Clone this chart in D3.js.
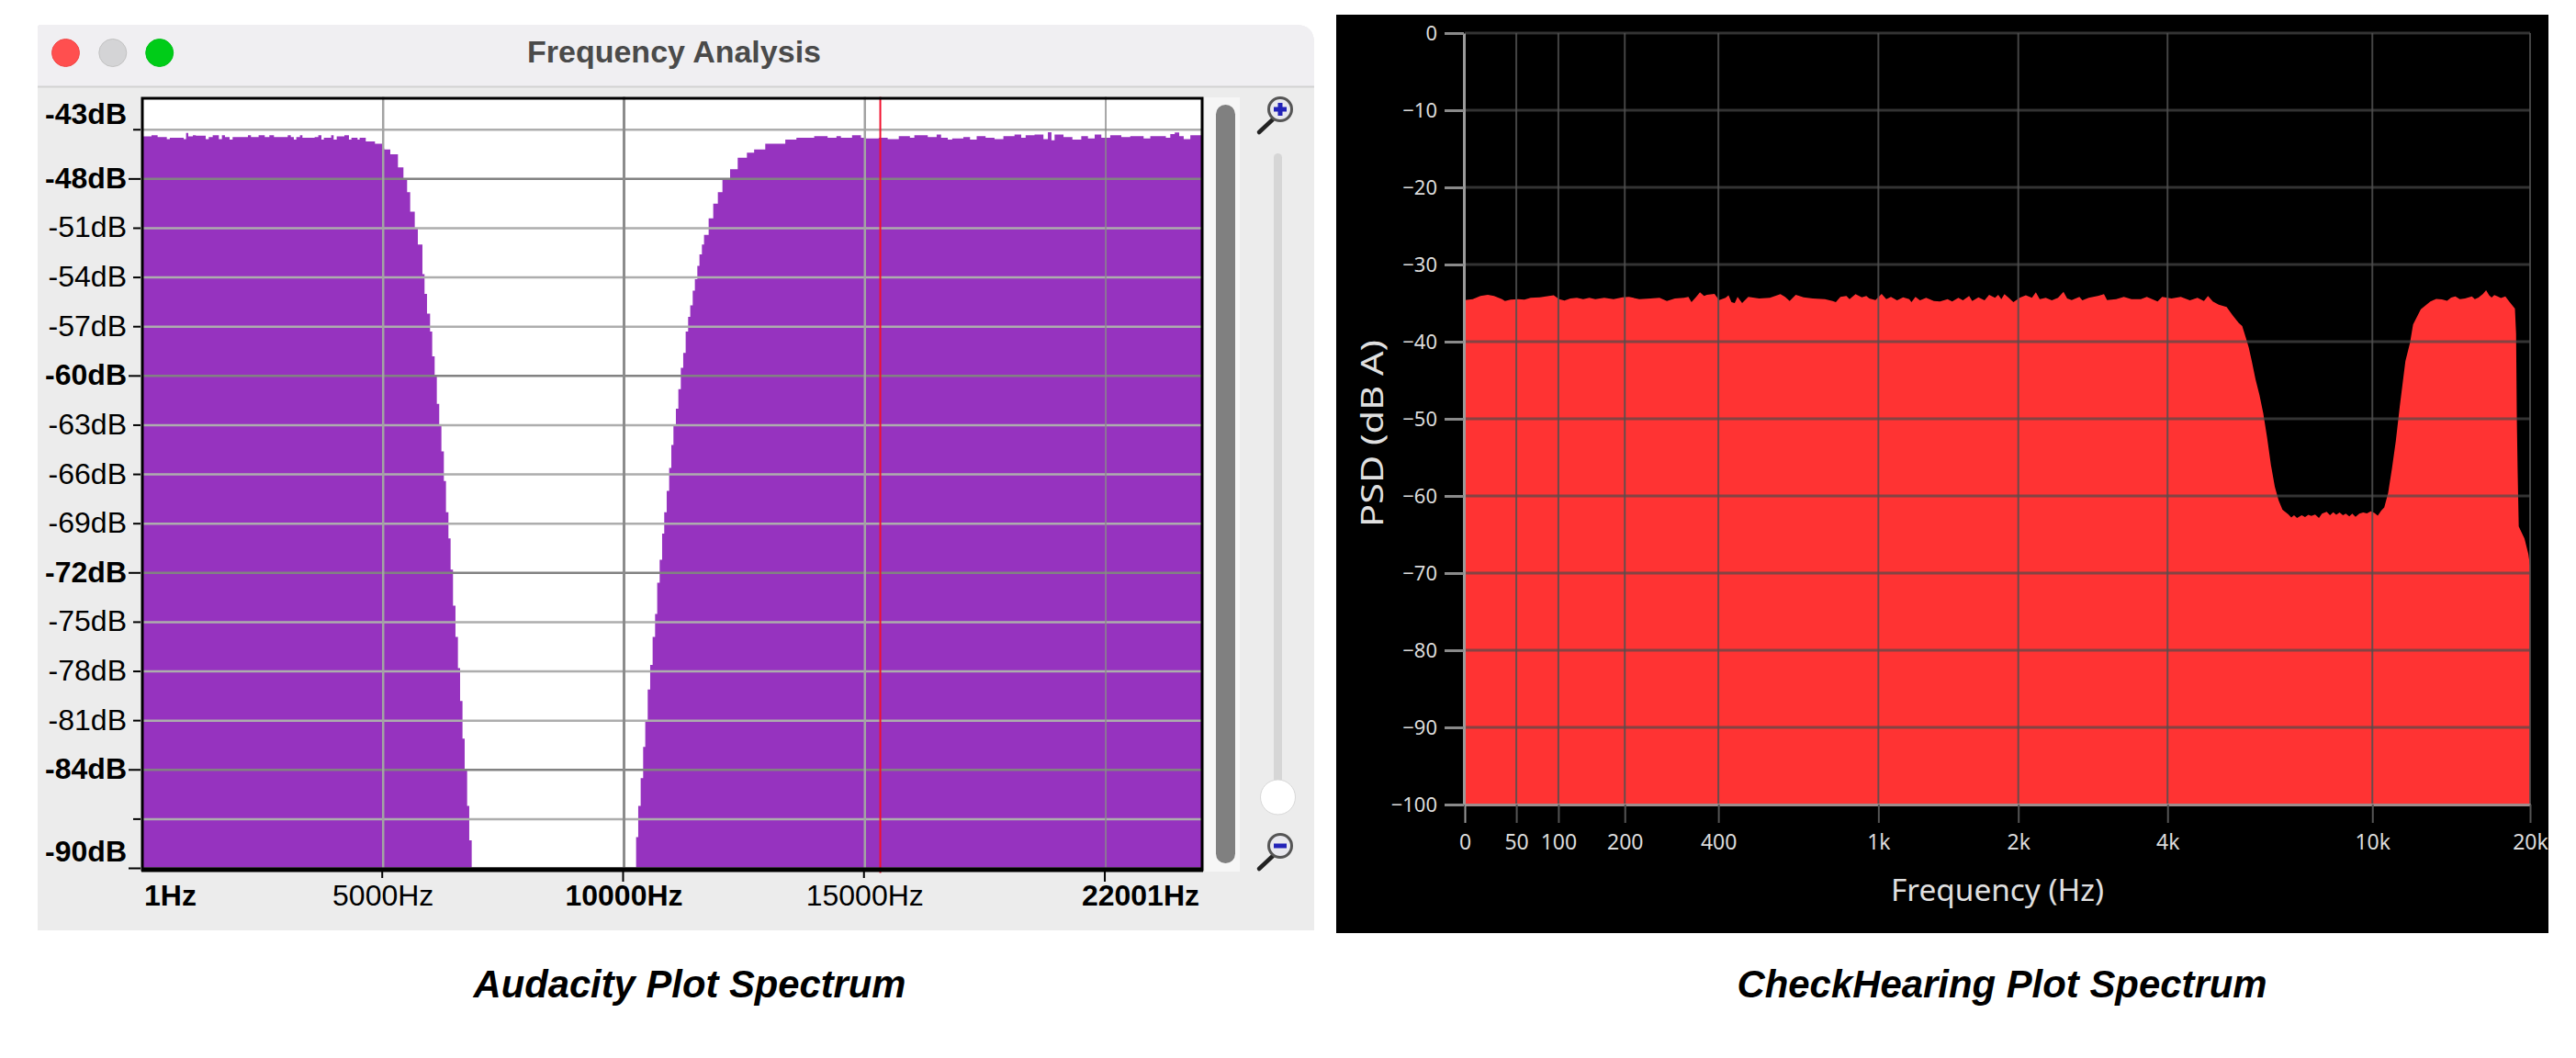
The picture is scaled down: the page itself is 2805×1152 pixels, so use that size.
<!DOCTYPE html>
<html>
<head>
<meta charset="utf-8">
<script src="https://cdn.jsdelivr.net/npm/d3@7"></script>
<style>
  body { margin: 0; background: #fff; }
  svg { display: block; }
</style>
</head>
<body>
<svg width="2805" height="1152"></svg>
<script>
// Audacity spectrum, stepped bins (Hz, dB)
const audacityFreq = [1,191,318,509,572,858,909,954,1049,1112,1316,1379,1462,1589,1653,1716,1812,1875,2193,2256,2415,2542,2638,2733,3019,3083,3146,3197,3273,3324,3578,3654,3718,3769,3921,3972,4036,4195,4290,4341,4468,4512,4639,4830,4989,
  5021,5148,5307,5421,5497,5561,5656,5720,5815,5859,5910,5974,6018,6069,6114,6164,6209,6260,6304,6355,6400,6450,6501,6552,6597,6647,6692,6743,6787,6838,
  10200,10251,10295,10346,10397,10441,10492,10543,10594,10645,10689,10740,10791,10835,10886,10937,10982,11026,11077,11128,11179,11229,11280,11331,11375,11426,11471,11522,11566,11617,11661,11757,11852,11948,12043,12202,12360,12551,12701,12932,13163,13348,
  13579,13948,14226,14410,14503,14734,14919,15011,15288,15473,15704,15935,16027,16305,16490,16582,16721,16813,17044,17183,17321,17506,17691,17875,18106,18245,18337,18522,18707,18799,18873,18938,19123,19308,19492,19631,19770,19908,20093,20324,20509,20786,20925,21248,21340,21433,21525,21618,21756,22001];
const audacityDb = [-45.40,-45.34,-45.45,-45.58,-45.49,-45.58,-45.19,-45.40,-45.34,-45.36,-45.58,-45.45,-45.34,-45.58,-45.34,-45.45,-45.60,-45.45,-45.34,-45.45,-45.34,-45.45,-45.34,-45.45,-45.34,-45.45,-45.60,-45.45,-45.34,-45.49,-45.45,-45.34,-45.60,-45.49,-45.34,-45.60,-45.40,-45.34,-45.60,-45.49,-45.60,-45.49,-45.71,-45.86,-46.14,
  -46.2,-46.5,-47.3,-48,-48.8,-50,-51,-52,-53.8,-55,-56.2,-57.3,-58.8,-60,-61.7,-63,-64.6,-66.4,-68.3,-69.9,-71.8,-74,-75.9,-77.8,-79.8,-82.1,-84,-86.2,-88.3,-90,
  -90,-88.1,-86.2,-84.5,-82.6,-81,-79.1,-77.6,-75.9,-74.5,-72.6,-71.2,-69.6,-68.3,-67,-65.6,-64.2,-63,-62,-60.8,-59.5,-58.6,-57.3,-56.4,-55.7,-54.8,-54.1,-53.3,-52.6,-52,-51.4,-50.4,-49.5,-48.8,-48,-47.4,-46.7,-46.4,-46.2,-45.85,-45.85,-45.6,
  -45.49,-45.39,-45.49,-45.39,-45.49,-45.34,-45.49,-45.53,-45.49,-45.58,-45.39,-45.49,-45.34,-45.45,-45.30,-45.49,-45.60,-45.53,-45.45,-45.60,-45.39,-45.49,-45.58,-45.39,-45.30,-45.49,-45.34,-45.30,-45.58,-45.15,-45.64,-45.30,-45.45,-45.60,-45.39,-45.53,-45.30,-45.49,-45.34,-45.45,-45.39,-45.53,-45.39,-45.49,-45.26,-45.17,-45.39,-45.58,-45.34,-45.34];

// CheckHearing spectrum (Hz, dB)
const checkFreq = [0,7,14,21,27,35,38,44,52,59,66,77,88,94,101,108,116,125,134,143,152,166,181,196,207,226,247,265,280,297,317,327,334,345,354,364,371,390,402,419,427,435,444,452,465,483,516,550,585,601,617,639,668,703,752,
  784,798,818,845,859,887,917,939,954,985,1017,1042,1067,1101,1136,1172,1185,1209,1237,1276,1326,1367,1420,1452,1497,1531,1578,1602,1651,1701,1739,1789,1817,1844,1872,1911,1954,2013,2073,2134,2174,2214,2278,2344,2413,2476,2519,2573,2667,2704,2784,2904,2989,3032,3162,3276,3393,3540,3639,3822,3903,4073,4248,4427,4582,4717,4804,4910,5043,5225,5371,5519,
  5604,5700,5770,5850,5950,6054,6158,6266,6375,6485,6597,6711,6886,6980,7065,7160,7311,7420,7530,7630,7760,7893,8000,8168,8290,8410,8524,8650,8780,8894,9030,9150,9282,9440,9602,9760,9933,10090,10241,10400,10540,10721,10905,11092,11282,11415,11570,11807,11969,12382,12916,13250,13589,13900,14150,14414,14700,15034,15500,15700,15949,16274,16495,16717,16900,17100,17351,17600,17947,18249,18716,18812,18874,18937,19032,19519,19850,20000];
const checkDb = [-34.6,-34.48,-34.08,-33.93,-34.08,-34.48,-34.72,-34.56,-34.48,-34.56,-34.32,-34.25,-34.08,-34.0,-34.48,-34.68,-34.4,-34.32,-34.48,-34.32,-34.48,-34.32,-34.48,-34.25,-34.2,-34.48,-34.4,-34.32,-34.72,-34.4,-34.32,-34.2,-34.88,-34.2,-33.61,-34.08,-33.93,-33.81,-34.6,-34.32,-34.0,-34.88,-35.0,-34.2,-35.0,-34.2,-34.4,-34.32,-33.85,-34.2,-34.72,-33.93,-34.25,-34.4,-34.48,
  -34.72,-34.88,-34.2,-34.08,-34.48,-33.85,-34.25,-34.08,-34.4,-34.6,-33.81,-34.48,-34.2,-34.64,-34.25,-34.48,-34.88,-34.2,-34.64,-34.32,-34.72,-34.8,-34.48,-34.8,-34.32,-34.64,-34.08,-34.72,-34.25,-34.64,-33.93,-34.32,-33.93,-34.48,-33.85,-34.32,-34.88,-34.32,-34.0,-34.32,-33.61,-34.48,-34.32,-34.64,-34.32,-33.53,-34.4,-34.6,-34.2,-34.64,-34.32,-34.08,-33.85,-34.6,-34.48,-34.2,-34.48,-34.48,-34.2,-34.8,-34.2,-34.4,-34.2,-34.64,-34.32,-34.72,-34.08,-34.8,-35.2,-35.5,-36.6,-37.6,
  -37.98,-39.56,-40.75,-42.54,-44.92,-46.9,-49.29,-52.46,-56.03,-58.81,-60.6,-61.79,-62.38,-62.8,-62.5,-62.85,-62.5,-62.75,-62.45,-62.6,-62.4,-62.85,-62.3,-62.05,-62.5,-62.1,-62.45,-62.15,-62.5,-62.3,-62.65,-62.3,-62.7,-62.3,-62.15,-62.25,-61.98,-62.2,-62.55,-61.9,-61.5,-59.6,-56.43,-52.86,-48.49,-45.71,-42.54,-40.16,-37.78,-35.8,-34.8,-34.45,-34.52,-34.7,-34.3,-34.13,-34.5,-34.4,-34.15,-34.5,-34.29,-33.81,-33.33,-34.0,-34.3,-33.95,-34.13,-34.35,-34.13,-34.8,-35.71,-38.97,-50.08,-56.43,-63.97,-65.55,-67.54,-69.12];

const audacityDbTicks = [-45,-48,-51,-54,-57,-60,-63,-66,-69,-72,-75,-78,-81,-84,-87,-90];
const audacityDbMajor = [-48,-60,-72,-84,-90];
const audacityDbLabels = [-43,-48,-51,-54,-57,-60,-63,-66,-69,-72,-75,-78,-81,-84,-90];
const audacityBoldLabels = [-43,-48,-60,-72,-84,-90];
const audacityHzTicks = [5000,10000,15000,20000];
const audacityHzLabels = [1,5000,10000,15000,22001];
const audacityBoldHz = [1,10000,22001];
const audacityCursor = 15320;

const checkDbTicks = [0,-10,-20,-30,-40,-50,-60,-70,-80,-90,-100];
const checkHzTicks = [0,50,100,200,400,1000,2000,4000,10000,20000];
const checkHzLabels = ["0","50","100","200","400","1k","2k","4k","10k","20k"];

const svg = d3.select("svg");
const sans = "'Liberation Sans', Arial, sans-serif";

// ---------- Audacity window ----------
const win = svg.append("g");
win.append("path")
  .attr("d", "M41,1013 V30 Q41,27 44,27 H1411 Q1431,27 1431,47 V1013 Z")
  .style("fill", "#ececec");
win.append("path")
  .attr("d", "M41,94 V30 Q41,27 44,27 H1411 Q1431,27 1431,47 V94 Z")
  .style("fill", "#f0eff2");
win.append("line")
  .attr("x1", 41).attr("x2", 1431).attr("y1", 94.5).attr("y2", 94.5)
  .style("stroke", "#d2d2d2").style("stroke-width", 2);

[[71.5, "#ff4f4f", "#f04848"], [122.8, "#d4d4d6", "#c2c2c2"], [173.7, "#00cc18", "#00c018"]].forEach(function(b) {
  win.append("circle")
    .attr("cx", b[0]).attr("cy", 57.5).attr("r", 15)
    .style("fill", b[1]).style("stroke", b[2]).style("stroke-width", 1);
});

win.append("text")
  .attr("x", 734).attr("y", 68)
  .attr("text-anchor", "middle")
  .attr("textLength", 320).attr("lengthAdjust", "spacingAndGlyphs")
  .style("font", "bold 33px " + sans)
  .style("fill", "#4a4a4a")
  .text("Frequency Analysis");

const ax = d3.scaleLinear().domain([1, 22001]).range([155, 1309]);
const ay = d3.scaleLinear().domain([-43, -90]).range([105.5, 945.5]);

svg.append("rect")
  .attr("x", ax.range()[0]).attr("y", ay(-43))
  .attr("width", ax.range()[1] - ax.range()[0]).attr("height", ay(-90) - ay(-43))
  .style("fill", "#fff");

const audacityArea = d3.area()
  .x(function(d) { return ax(d[0]); })
  .y0(ay(-90))
  .y1(function(d) { return ay(d[1]); })
  .curve(d3.curveStepAfter);

svg.append("path")
  .datum(d3.zip(audacityFreq, audacityDb))
  .attr("d", audacityArea)
  .style("fill", "#9633bf");

// grid
svg.selectAll(".ah").data(audacityDbTicks).join("line")
  .attr("class", "ah")
  .attr("x1", ax.range()[0]).attr("x2", ax.range()[1])
  .attr("y1", function(d) { return ay(d); }).attr("y2", function(d) { return ay(d); })
  .style("stroke", function(d) { return audacityDbMajor.includes(d) ? "#828282" : "#adadad"; })
  .style("stroke-width", 2.5);

svg.selectAll(".av").data(audacityHzTicks).join("line")
  .attr("class", "av")
  .attr("x1", function(d) { return ax(d); }).attr("x2", function(d) { return ax(d); })
  .attr("y1", ay(-43)).attr("y2", ay(-90))
  .style("stroke", function(d) { return d === 10000 ? "#8c8c8c" : (d === 20000 ? "#8a8a8a" : "#a3a3a3"); })
  .style("stroke-width", function(d) { return d === 20000 ? 1.5 : (d === 10000 ? 3 : 2.5); });

svg.append("line")
  .attr("x1", ax(audacityCursor)).attr("x2", ax(audacityCursor))
  .attr("y1", ay(-43)).attr("y2", ay(-90) + 5)
  .style("stroke", "#f2102e").style("stroke-width", 2);

// frame
svg.append("rect")
  .attr("x", ax.range()[0]).attr("y", 107)
  .attr("width", ax.range()[1] - ax.range()[0]).attr("height", 840)
  .style("fill", "none").style("stroke", "#000").style("stroke-width", 3);
svg.append("line")
  .attr("x1", ax.range()[0] - 1).attr("x2", ax.range()[1] + 1).attr("y1", 947).attr("y2", 947)
  .style("stroke", "#000").style("stroke-width", 5);

// y ticks and labels
svg.selectAll(".at").data(audacityDbTicks).join("line")
  .attr("class", "at")
  .attr("x1", function(d) { return audacityDbMajor.includes(d) ? 140 : 145; }).attr("x2", 153)
  .attr("y1", function(d) { return ay(d); }).attr("y2", function(d) { return ay(d); })
  .style("stroke", "#000").style("stroke-width", 2);

svg.selectAll(".al").data(audacityDbLabels).join("text")
  .attr("class", "al")
  .attr("x", 138)
  .attr("y", function(d) {
    if (d === -43) return ay(d) + 29;
    if (d === -90) return ay(d) - 8;
    return ay(d) + 10;
  })
  .attr("text-anchor", "end")
  .style("font-family", sans)
  .style("font-size", "32px")
  .style("font-weight", function(d) { return audacityBoldLabels.includes(d) ? "bold" : "normal"; })
  .style("fill", "#000")
  .text(function(d) { return d + "dB"; });

// x ticks and labels
svg.append("g")
  .attr("transform", "translate(-1.5,949)")
  .call(d3.axisBottom(ax).tickValues(audacityHzTicks).tickFormat("").tickSizeOuter(0))
  .call(function(g) {
    g.select(".domain").remove();
    g.selectAll("line")
      .attr("y2", function(d) { return d === 5000 || d === 15000 ? 7 : 11; })
      .style("stroke", "#000").style("stroke-width", 2);
  });

svg.selectAll(".ax").data(audacityHzLabels).join("text")
  .attr("class", "ax")
  .attr("x", function(d) { return d === 1 ? 157 : (d === 22001 ? 1306 : ax(d)); })
  .attr("y", 986)
  .attr("text-anchor", function(d) { return d === 1 ? "start" : (d === 22001 ? "end" : "middle"); })
  .style("font-family", sans)
  .style("font-size", "32px")
  .style("font-weight", function(d) { return audacityBoldHz.includes(d) ? "bold" : "normal"; })
  .style("fill", "#000")
  .text(function(d) { return d + "Hz"; });

// scrollbar and zoom slider
svg.append("rect").attr("x", 1312).attr("y", 106).attr("width", 38).attr("height", 843).style("fill", "#f6f6f6");
svg.append("rect").attr("x", 1324).attr("y", 114).attr("width", 21).attr("height", 826).attr("rx", 10.5).style("fill", "#808080");
svg.append("rect").attr("x", 1387).attr("y", 167).attr("width", 9).attr("height", 690).attr("rx", 4.5).style("fill", "#d6d6d6");
svg.append("circle").attr("cx", 1391.5).attr("cy", 868).attr("r", 19)
  .style("fill", "#fff").style("stroke", "#d8d8d8").style("stroke-width", 1);

function magnifier(cy, plus) {
  const g = svg.append("g").attr("transform", "translate(1394," + cy + ")");
  g.append("line").attr("x1", -8).attr("y1", 11).attr("x2", -23).attr("y2", 25)
    .style("stroke", "#222").style("stroke-width", 4.5).style("stroke-linecap", "round");
  g.append("circle").attr("r", 12.5).style("fill", "#e8e8ee").style("stroke", "#555").style("stroke-width", 3);
  g.append("rect").attr("x", -7).attr("y", -2.5).attr("width", 14).attr("height", 5).style("fill", "#2222b8");
  if (plus) g.append("rect").attr("x", -2.5).attr("y", -7).attr("width", 5).attr("height", 14).style("fill", "#2222b8");
}
magnifier(119, true);
magnifier(921, false);

// ---------- CheckHearing panel ----------
svg.append("rect")
  .attr("x", 1455).attr("y", 16).attr("width", 1320).attr("height", 1000)
  .style("fill", "#000");

const cx = d3.scaleSymlog().constant(200).domain([0, 20000]).range([1595, 2755]);
const cy = d3.scaleLinear().domain([0, -100]).range([36, 876]);

const checkArea = d3.area()
  .x(function(d) { return cx(d[0]); })
  .y0(cy(-100))
  .y1(function(d) { return cy(d[1]); });

svg.append("path")
  .datum(d3.zip(checkFreq, checkDb))
  .attr("d", checkArea)
  .style("fill", "#ff3333");

// grid
svg.selectAll(".ch").data(checkDbTicks.slice(0, -1)).join("line")
  .attr("class", "ch")
  .attr("x1", cx(0)).attr("x2", cx(20000))
  .attr("y1", function(d) { return cy(d); }).attr("y2", function(d) { return cy(d); })
  .style("stroke", "#4b4b4b").style("stroke-opacity", 0.68).style("stroke-width", 3);

svg.selectAll(".cv").data(checkHzTicks.slice(1)).join("line")
  .attr("class", "cv")
  .attr("x1", function(d) { return cx(d); }).attr("x2", function(d) { return cx(d); })
  .attr("y1", cy(0)).attr("y2", cy(-100))
  .style("stroke", "#505050").style("stroke-opacity", 0.85).style("stroke-width", 2);

// axes
const checkLeft = svg.append("g")
  .attr("transform", "translate(1594,0)")
  .call(d3.axisLeft(cy).tickValues(checkDbTicks).tickSize(21).tickPadding(8).tickSizeOuter(0));
checkLeft.select(".domain").style("stroke", "#9a9a9a").style("stroke-width", 3);
checkLeft.selectAll("line").style("stroke", "#8a8a8a").style("stroke-width", 3);
checkLeft.selectAll("text")
  .style("font-family", "'Noto Sans', sans-serif").style("font-size", "22px").style("fill", "#dcdcdc");

const checkBottom = svg.append("g")
  .attr("transform", "translate(0,876)")
  .call(d3.axisBottom(cx).tickValues(checkHzTicks).tickFormat(function(d, i) { return checkHzLabels[i]; })
    .tickSize(20).tickPadding(13).tickSizeOuter(0));
checkBottom.select(".domain").style("stroke", "#a08c8c").style("stroke-width", 3);
checkBottom.selectAll("line")
  .style("stroke", function(d) { return d === 0 ? "#999" : "#555"; })
  .style("stroke-width", 2);
checkBottom.selectAll("text")
  .style("font-family", "'Noto Sans', sans-serif").style("font-size", "23px").style("fill", "#dcdcdc");

svg.append("text")
  .attr("x", 2175).attr("y", 981)
  .attr("text-anchor", "middle")
  .attr("textLength", 232).attr("lengthAdjust", "spacingAndGlyphs")
  .style("font-family", "'Noto Sans', sans-serif").style("font-size", "32px").style("fill", "#e0e0e0")
  .text("Frequency (Hz)");

svg.append("text")
  .attr("transform", "translate(1506,472) rotate(-90)")
  .attr("text-anchor", "middle")
  .attr("textLength", 204).attr("lengthAdjust", "spacingAndGlyphs")
  .style("font-family", "'Noto Sans', sans-serif").style("font-size", "32px").style("fill", "#e0e0e0")
  .text("PSD (dB A)");

// ---------- captions ----------
[["Audacity Plot Spectrum", 751, 471], ["CheckHearing Plot Spectrum", 2180, 577]].forEach(function(c) {
  svg.append("text")
    .attr("x", c[1]).attr("y", 1086)
    .attr("text-anchor", "middle")
    .attr("textLength", c[2]).attr("lengthAdjust", "spacingAndGlyphs")
    .style("font", "italic bold 43px " + sans)
    .style("fill", "#000")
    .text(c[0]);
});
</script>
</body>
</html>
